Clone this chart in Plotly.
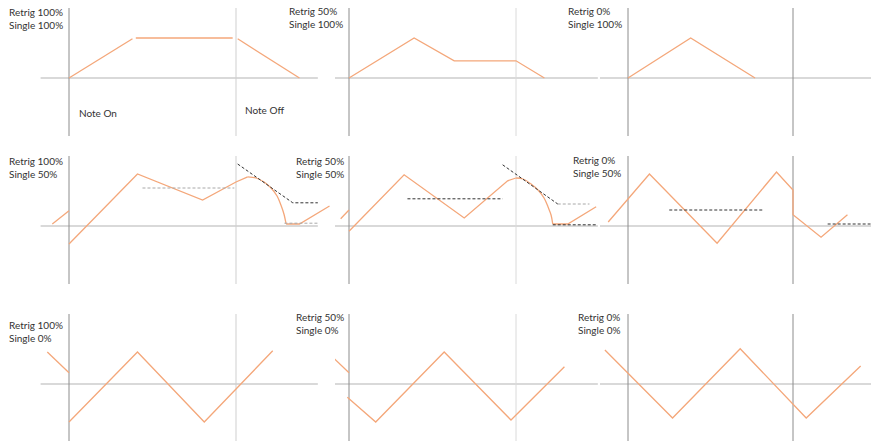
import plotly.graph_objects as go

# label values
RETRIG = ["100%", "50%", "0%"]   # per column
SINGLE = ["100%", "50%", "0%"]   # per row

# envelope lines: x in note lengths (0 = note on, 1 = note off), y in level units
P1_X = [0, 0.38, None, 0.40, 0.98, None, 1.01, 1.38]
P1_Y = [0, 0.98, None, 1.0, 1.0, None, 0.98, 0]
P2_X = [0, 0.39, 0.63, 1.0, 1.17]
P2_Y = [0, 1.0, 0.43, 0.43, 0]
P3_X = [0, 0.38, 0.77]
P3_Y = [0, 1.0, 0]

P4_X = [-0.10, 0, None, 0, 0.41, 0.80, 1.0, 1.07, None, 1.30, 1.38, 1.56]
P4_Y = [0.05, 0.38, None, -0.45, 1.30, 0.65, 1.10, 1.23, None, 0.05, 0.05, 0.50]
P5_X = [-0.05, 0, None, 0, 0.33, 0.69, 0.95, 1.0, None, 1.22, 1.31, 1.48]
P5_Y = [0.18, 0.40, None, -0.13, 1.28, 0.20, 1.13, 1.20, None, 0.05, 0.05, 0.48]
P6_X = [-0.12, 0.13, 0.54, 0.90, 1.0, 1.0, 1.17, 1.33]
P6_Y = [0.10, 1.30, -0.43, 1.35, 0.90, 0.28, -0.28, 0.28]

# release curves after note off (single 50%)
P4_ARC_X = [1.07, 1.12, 1.168, 1.21, 1.246, 1.269, 1.287, 1.30]
P4_ARC_Y = [1.23, 1.20, 1.10, 0.95, 0.75, 0.525, 0.30, 0.05]
P5_ARC_X = [1.0, 1.042, 1.09, 1.132, 1.168, 1.192, 1.21, 1.22]
P5_ARC_Y = [1.20, 1.175, 1.05, 0.90, 0.70, 0.475, 0.275, 0.05]

P7_X = [-0.13, 0, None, 0, 0.41, 0.81, 1.22]
P7_Y = [0.80, 0.28, None, -0.95, 0.80, -0.95, 0.83]
P8_X = [-0.13, 0, None, -0.01, 0.16, 0.57, 0.97, 1.29]
P8_Y = [0.80, 0.28, None, -0.33, -0.95, 0.80, -0.90, 0.43]
P9_X = [-0.14, 0.27, 0.68, 1.08, 1.41]
P9_Y = [0.85, -0.85, 0.88, -0.85, 0.45]

# dashed guide levels
P4_GRAY_X = [0.44, 0.99, None, 1.29, 1.49]
P4_GRAY_Y = [0.95, 0.95, None, 0.07, 0.07]
P4_DARK_X = [1.01, 1.34, 1.49]
P4_DARK_Y = [1.55, 0.58, 0.58]
P5_GRAY_X = [1.25, 1.44]
P5_GRAY_Y = [0.55, 0.55]
P5_DARK_X = [0.35, 0.92, None, 0.92, 1.25, None, 1.22, 1.48]
P5_DARK_Y = [0.68, 0.68, None, 1.53, 0.55, None, 0.03, 0.03]
P6_DARK_X = [0.25, 0.82, None, 1.21, 1.47]
P6_DARK_Y = [0.40, 0.40, None, 0.05, 0.05]

ENV = [(P1_X, P1_Y), (P2_X, P2_Y), (P3_X, P3_Y),
       (P4_X, P4_Y), (P5_X, P5_Y), (P6_X, P6_Y),
       (P7_X, P7_Y), (P8_X, P8_Y), (P9_X, P9_Y)]
ARCS = [(3, P4_ARC_X, P4_ARC_Y), (4, P5_ARC_X, P5_ARC_Y)]
GUIDES = [
    (3, P4_GRAY_X, P4_GRAY_Y, "#a8a8a8"),
    (3, P4_DARK_X, P4_DARK_Y, "#333333"),
    (4, P5_GRAY_X, P5_GRAY_Y, "#a8a8a8"),
    (4, P5_DARK_X, P5_DARK_Y, "#333333"),
    (5, P6_DARK_X, P6_DARK_Y, "#333333"),
]

# page geometry in pixels
W, H = 871, 441
COL_ON = [69, 349, 628]
COL_OFF = [236, 516, 793]
COL_BOUNDS = [(0, 335), (335, 600), (600, 871)]
ROW_BASE = [78, 226, 384]
ROW_BOUNDS = [(0, 145), (145, 292), (292, 441)]
PX_Y = 40
OFF_LINE = ["#cfcfcf", "#dadada", "#8c8c8c"]

LABEL_PX = [7, 287, 566, 7, 294, 571, 7, 294, 576]
LABEL_PY = [18, 17, 17, 167, 167, 166, 331, 323, 323]

ORANGE = "#f4a77a"
FONT = dict(family="Lato", size=10, color="#333333")


def ax_suffix(i):
    return "" if i == 0 else str(i + 1)


fig = go.Figure()
layout = {}
shapes = []
annotations = []

for i in range(9):
    r, c = divmod(i, 3)
    sfx = ax_suffix(i)
    xr, yr = "x" + sfx, "y" + sfx
    L, R = COL_BOUNDS[c]
    T, B = ROW_BOUNDS[r]
    on, span = COL_ON[c], COL_OFF[c] - COL_ON[c]
    base = ROW_BASE[r]
    layout["xaxis" + sfx] = dict(
        domain=[L / W, R / W], range=[(L - on) / span, (R - on) / span],
        anchor=yr, visible=False, fixedrange=True)
    layout["yaxis" + sfx] = dict(
        domain=[1 - B / H, 1 - T / H], range=[(base - B) / PX_Y, (base - T) / PX_Y],
        anchor=xr, visible=False, fixedrange=True)

    # baseline and note on / note off markers
    shapes.append(dict(type="line", xref=xr, yref=yr, x0=-0.17, x1=1.49, y0=0, y1=0,
                       line=dict(color="#cccccc", width=1.5), layer="below"))
    shapes.append(dict(type="line", xref=xr, yref=yr, x0=0, x1=0, y0=-1.45, y1=1.75,
                       line=dict(color="#8c8c8c", width=1), layer="below"))
    shapes.append(dict(type="line", xref=xr, yref=yr, x0=1, x1=1, y0=-1.45, y1=1.75,
                       line=dict(color=OFF_LINE[c], width=1), layer="below"))

    ex, ey = ENV[i]
    fig.add_trace(go.Scatter(x=ex, y=ey, xaxis=xr, yaxis=yr, mode="lines",
                             line=dict(color=ORANGE, width=1.3), hoverinfo="skip"))

    annotations.append(dict(
        xref="paper", yref="paper", x=LABEL_PX[i] / W, y=1 - LABEL_PY[i] / H,
        xanchor="left", yanchor="middle", align="left", showarrow=False,
        text=f"Retrig {RETRIG[c]}<br>Single {SINGLE[r]}", font=FONT))

for idx, ax_x, ax_y in ARCS:
    sfx = ax_suffix(idx)
    fig.add_trace(go.Scatter(x=ax_x, y=ax_y, xaxis="x" + sfx, yaxis="y" + sfx, mode="lines",
                             line=dict(color=ORANGE, width=1.3, shape="spline", smoothing=1),
                             hoverinfo="skip"))

for idx, gx, gy, col in GUIDES:
    sfx = ax_suffix(idx)
    fig.add_trace(go.Scatter(x=gx, y=gy, xaxis="x" + sfx, yaxis="y" + sfx, mode="lines",
                             line=dict(color=col, width=1, dash="3px,2px"), hoverinfo="skip"))

annotations.append(dict(xref="paper", yref="paper", x=77 / W, y=1 - 113 / H, xanchor="left",
                        yanchor="middle", showarrow=False, text="Note On", font=FONT))
annotations.append(dict(xref="paper", yref="paper", x=243 / W, y=1 - 110 / H, xanchor="left",
                        yanchor="middle", showarrow=False, text="Note Off", font=FONT))

fig.update_layout(**layout)
fig.update_layout(
    width=W, height=H, margin=dict(l=0, r=0, t=0, b=0),
    paper_bgcolor="white", plot_bgcolor="white", showlegend=False,
    shapes=shapes, annotations=annotations,
)

fig.write_html("out.html", config={"displayModeBar": False},
               post_script="document.body.style.margin='0';")
